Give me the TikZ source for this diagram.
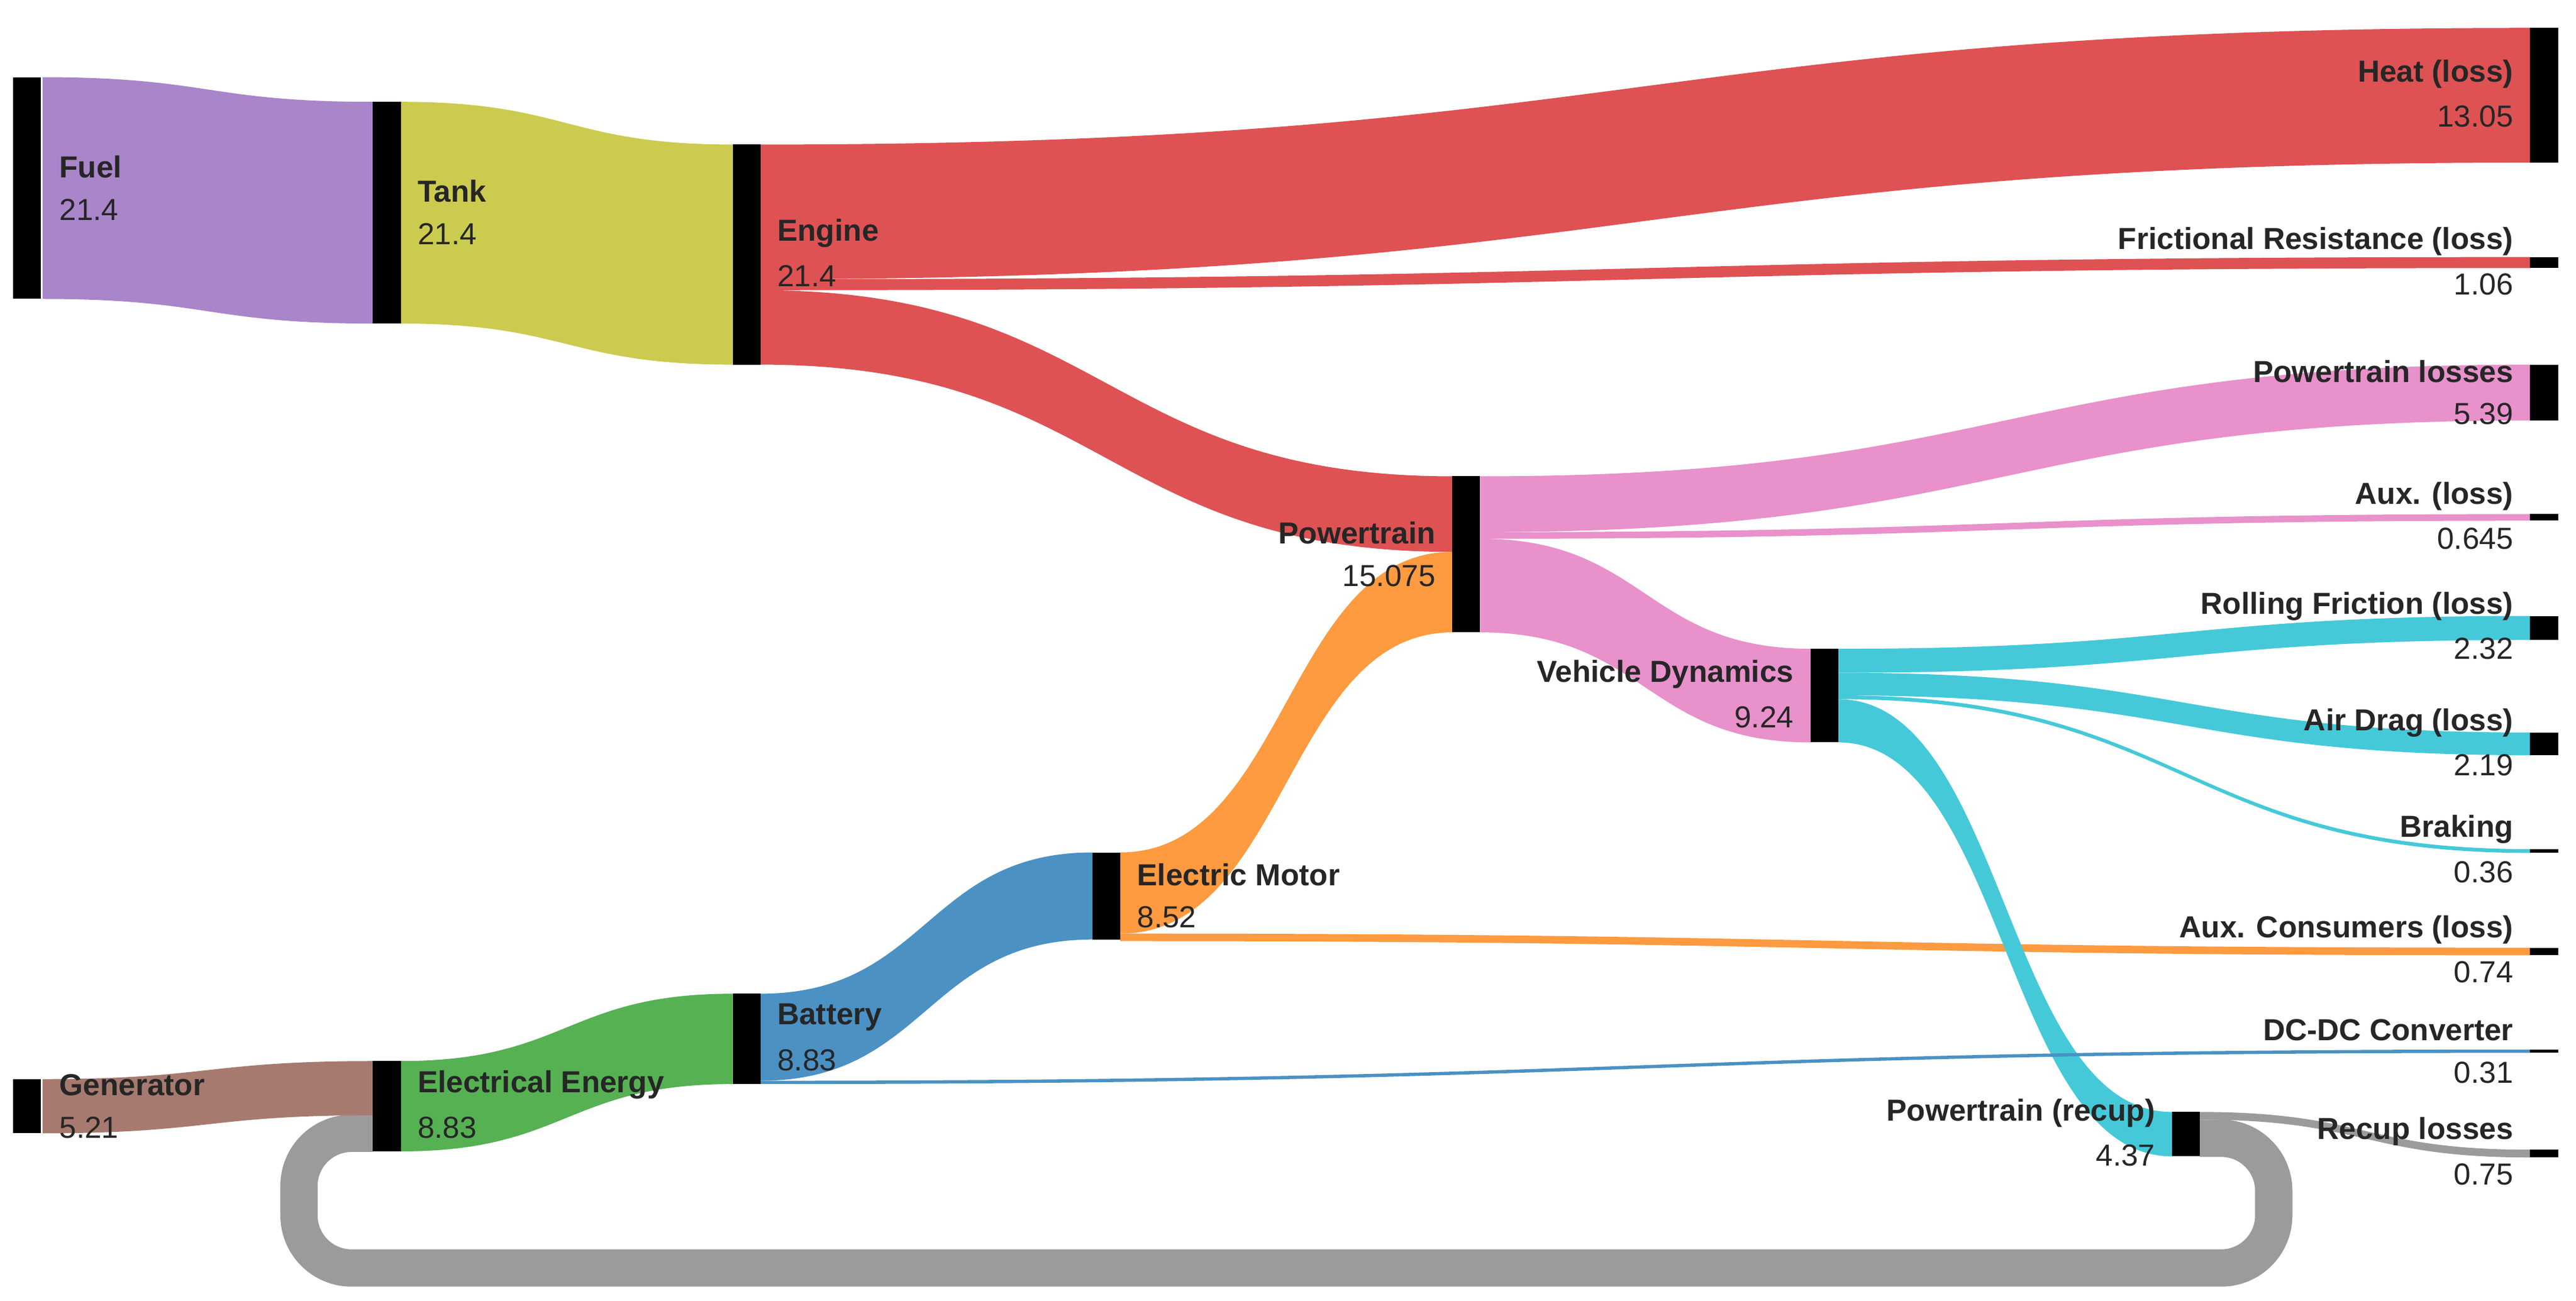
\documentclass[tikz,border=0pt]{standalone}
\usepackage{fontspec}
\setmainfont{Liberation Sans}
\begin{document}
\begin{tikzpicture}[x=1pt,y=-1pt,
  bar/.style={fill=black,inner sep=0pt,minimum width=17pt},
  nm/.style={font=\fontsize{18.5}{20}\selectfont\bfseries,inner sep=0pt,text=black!85},
  vl/.style={font=\fontsize{18.5}{20}\selectfont,inner sep=0pt,text=black!85}]
\useasboundingbox (0,0) rectangle (1568,792);
\newcommand\flw[7]{\fill[#7] (#1,#2) .. controls ({(#1+#4)/2},#2) and ({(#1+#4)/2},#5) .. (#4,#5) -- (#4,#6) .. controls ({(#1+#4)/2},#6) and ({(#1+#4)/2},#3) .. (#1,#3) -- cycle;}
\newcommand\bnode[4]{\node[bar,minimum height={#4-#3}] (#1) at (#2+8.5,{(#3+#4)/2}) {};}
\newcommand\lR[5]{\node[nm,anchor=west] (#1n) at (#2+10,{#3-13}) {#4}; \node[vl,anchor=west] (#1v) at (#2+10,{#3+13}) {#5};}
\newcommand\lL[5]{\node[nm,anchor=east] (#1n) at (#2-10,{#3-13}) {#4}; \node[vl,anchor=east] (#1v) at (#2-10,{#3+13}) {#5};}
\definecolor{cfuel}{HTML}{A985CA}\definecolor{ctank}{HTML}{CBCB4F}
\definecolor{ceng}{HTML}{DE5254}\definecolor{cpt}{HTML}{E891CB}
\definecolor{cvd}{HTML}{45C9D9}\definecolor{cem}{HTML}{FE9A3F}
\definecolor{cbat}{HTML}{4B91C3}\definecolor{cee}{HTML}{56B153}
\definecolor{cgen}{HTML}{A77A6F}\definecolor{cgr}{HTML}{9B9B9B}
% loop
\draw[cgr,line width=22.7pt,rounded corners=32pt] (1339,693) -- (1384,693) -- (1384,772) -- (182,772) -- (182,690) -- (227,690);
% flows
\flw{26}{47}{182}{227}{62}{197}{cfuel}
\flw{244}{62}{197}{446}{88}{222}{ctank}
\flw{463}{88}{170}{1540}{17}{99}{ceng}
\flw{463}{170}{176.7}{1540}{156.5}{163.2}{ceng}
\flw{463}{176.7}{222}{884}{290}{336}{ceng}
\flw{682}{519}{568.4}{884}{336}{385}{cem}
\flw{682}{568.4}{573}{1540}{577}{581.6}{cem}
\flw{901}{290}{324}{1540}{222}{256}{cpt}
\flw{901}{324}{328}{1540}{313}{317}{cpt}
\flw{901}{328}{385}{1102}{395}{452}{cpt}
\flw{1119}{395}{409.6}{1540}{375}{389.6}{cvd}
\flw{1119}{409.6}{423.4}{1540}{446}{459.8}{cvd}
\flw{1119}{423.4}{425.7}{1540}{517}{519.3}{cvd}
\flw{1119}{425.7}{452}{1322}{677}{704}{cvd}
\flw{1339}{677}{681.7}{1540}{700}{704.7}{cgr}
\flw{26}{657}{690}{227}{646}{679}{cgen}
\flw{244}{646}{701}{446}{605}{660}{cee}
\flw{463}{605}{658}{665}{519}{572}{cbat}
\flw{463}{658}{660}{1540}{639}{641}{cbat}
% bars
\bnode{fuel}{8}{47}{182}
\bnode{tank}{227}{62}{197}
\bnode{eng}{446}{88}{222}
\bnode{heat}{1540}{17}{99}
\bnode{fric}{1540}{156.5}{163.2}
\bnode{ptl}{1540}{222}{256}
\bnode{aux}{1540}{313}{317}
\bnode{roll}{1540}{375}{389.6}
\bnode{air}{1540}{446}{459.8}
\bnode{brk}{1540}{517}{519.3}
\bnode{auxc}{1540}{577}{581.6}
\bnode{dcdc}{1540}{639}{641}
\bnode{recl}{1540}{700}{704.7}
\bnode{pt}{884}{290}{385}
\bnode{vd}{1102}{395}{452}
\bnode{em}{665}{519}{572}
\bnode{bat}{446}{605}{660}
\bnode{ee}{227}{646}{701}
\bnode{gen}{8}{657}{690}
\bnode{ptr}{1322}{677}{704}
% labels
\lR{fuel}{26}{114.5}{Fuel}{21.4}
\lR{tank}{244}{129.5}{Tank}{21.4}
\lR{eng}{463}{155}{Engine}{21.4}
\lR{em}{682}{545.5}{Electric Motor}{8.52}
\lR{bat}{463}{632.5}{Battery}{8.83}
\lR{ee}{244}{673.5}{Electrical Energy}{8.83}
\lR{gen}{26}{673.5}{Generator}{5.21}
\lL{pt}{884}{337.5}{Powertrain}{15.075}
\lL{vd}{1102}{423.5}{Vehicle Dynamics}{9.24}
\lL{ptr}{1322}{690.5}{Powertrain (recup)}{4.37}
\lL{heat}{1540}{58}{Heat (loss)}{13.05}
\lL{fric}{1540}{160}{Frictional Resistance (loss)}{1.06}
\lL{ptl}{1540}{239}{Powertrain losses}{5.39}
\lL{aux}{1540}{315}{Aux. (loss)}{0.645}
\lL{roll}{1540}{382}{Rolling Friction (loss)}{2.32}
\lL{air}{1540}{453}{Air Drag (loss)}{2.19}
\lL{brk}{1540}{518}{Braking}{0.36}
\lL{auxc}{1540}{579}{Aux. Consumers (loss)}{0.74}
\lL{dcdc}{1540}{640}{DC-DC Converter}{0.31}
\lL{recl}{1540}{702}{Recup losses}{0.75}
\end{tikzpicture}
\end{document}
